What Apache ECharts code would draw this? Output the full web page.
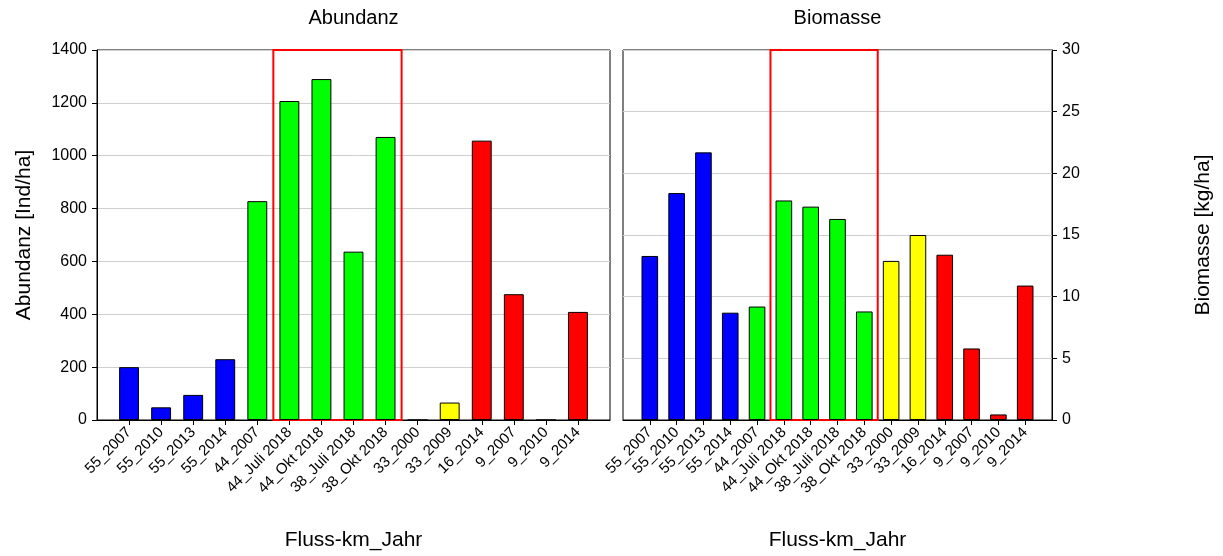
<!DOCTYPE html>
<html><head><meta charset="utf-8">
<script src="https://cdn.jsdelivr.net/npm/echarts@6/dist/echarts.min.js"></script>
<style>html,body{margin:0;padding:0;background:#fff}#c{width:1223px;height:556px}</style>
</head><body><div id="c"></div>
<script>
const categories = ['55_2007','55_2010','55_2013','55_2014','44_2007','44_Juli 2018','44_Okt 2018','38_Juli 2018','38_Okt 2018','33_2000','33_2009','16_2014','9_2007','9_2010','9_2014'];
const abundanz = [200, 48, 95, 230, 828, 1207, 1290, 637, 1071, 0, 66, 1057, 476, 0, 409];
const biomasse = [13.3, 18.4, 21.7, 8.7, 9.2, 17.8, 17.3, 16.3, 8.8, 12.9, 15.0, 13.4, 5.8, 0.45, 10.9];
const abundanzTicks = [0, 200, 400, 600, 800, 1000, 1200, 1400];
const biomasseTicks = [0, 5, 10, 15, 20, 25, 30];
const highlightFrom = '44_Juli 2018';
const highlightTo = '38_Okt 2018';
const titles = ['Abundanz', 'Biomasse'];
const yNames = ['Abundanz [Ind/ha]', 'Biomasse [kg/ha]'];
const xName = 'Fluss-km_Jahr';

const colorByKm = {'55': '#0000ff', '44': '#00ff00', '38': '#00ff00', '33': '#ffff00', '16': '#ff0000', '9': '#ff0000'};
const FONT = 'Liberation Sans, Arial, sans-serif';
const axisCats = [''].concat(categories, ['']);
const pad = arr => [null].concat(arr, [null]);
const hiA = categories.indexOf(highlightFrom) + 1 - 0.5;
const hiB = categories.indexOf(highlightTo) + 1 + 0.5;

const grids = [
  {left: 97, right: 613, top: 50, bottom: 136},
  {left: 623, right: 171, top: 50, bottom: 136}
];
const chart = echarts.init(document.getElementById('c'), null, {renderer: 'canvas'});

function xCat(i) {
  return {
    type: 'category', gridIndex: i, data: axisCats, boundaryGap: false,
    axisLine: {onZero: false, lineStyle: {color: '#000', width: 1}},
    axisTick: {length: 5, lineStyle: {color: '#000'}, interval: (idx) => idx > 0 && idx < axisCats.length - 1},
    axisLabel: {interval: 0, rotate: 45, fontFamily: FONT, fontSize: 15, color: '#000', margin: 10},
    name: xName, nameLocation: 'middle', nameGap: 110,
    nameTextStyle: {fontFamily: FONT, fontSize: 21, color: '#000'}
  };
}
function xVal(i) {
  return {type: 'value', gridIndex: i, min: 0, max: axisCats.length - 1, show: false,
    axisLine: {onZero: false}};
}
function yAx(i, ticks, pos, gap) {
  return {
    type: 'value', gridIndex: i, position: pos,
    min: ticks[0], max: ticks[ticks.length - 1], interval: ticks[1] - ticks[0],
    axisLine: {show: true, onZero: false, lineStyle: {color: '#000'}},
    axisTick: {show: true, length: 5, lineStyle: {color: '#000'}},
    axisLabel: {fontFamily: FONT, fontSize: 16, color: '#000', margin: 10, formatter: v => String(v)},
    splitLine: {lineStyle: {color: '#cfcfcf', width: 1}},
    name: yNames[i], nameLocation: 'middle', nameGap: gap,
    nameTextStyle: {fontFamily: FONT, fontSize: 21, color: '#000'}
  };
}
function bars(i, vals) {
  return {
    type: 'bar', xAxisIndex: i, yAxisIndex: i, data: pad(vals), barWidth: '62%',
    itemStyle: {color: p => colorByKm[String(p.name).split('_')[0]] || '#000', borderColor: '#000', borderWidth: 1},
    silent: true, animation: false
  };
}
function box(i) {
  return {
    type: 'line', xAxisIndex: i + 2, yAxisIndex: i, data: [], silent: true, animation: false,
    markArea: {silent: true, itemStyle: {color: 'rgba(0,0,0,0)', borderColor: '#ff0000', borderWidth: 2},
      data: [[{xAxis: hiA}, {xAxis: hiB}]]}
  };
}

chart.setOption({
  animation: false,
  backgroundColor: '#fff',
  title: [0, 1].map(i => ({
    text: titles[i], top: 8, padding: 0, textAlign: 'center',
    left: grids[i].left + ((1223 - grids[i].left - grids[i].right) / 2),
    textStyle: {fontFamily: FONT, fontSize: 20, fontWeight: 'normal', color: '#000'}
  })),
  grid: grids.map(g => Object.assign({show: true, borderColor: '#000', borderWidth: 1, backgroundColor: '#fff'}, g)),
  xAxis: [xCat(0), xCat(1), xVal(0), xVal(1)],
  yAxis: [yAx(0, abundanzTicks, 'left', 62), yAx(1, biomasseTicks, 'right', 141)],
  series: [bars(0, abundanz), bars(1, biomasse), box(0), box(1)]
});
</script></body></html>
